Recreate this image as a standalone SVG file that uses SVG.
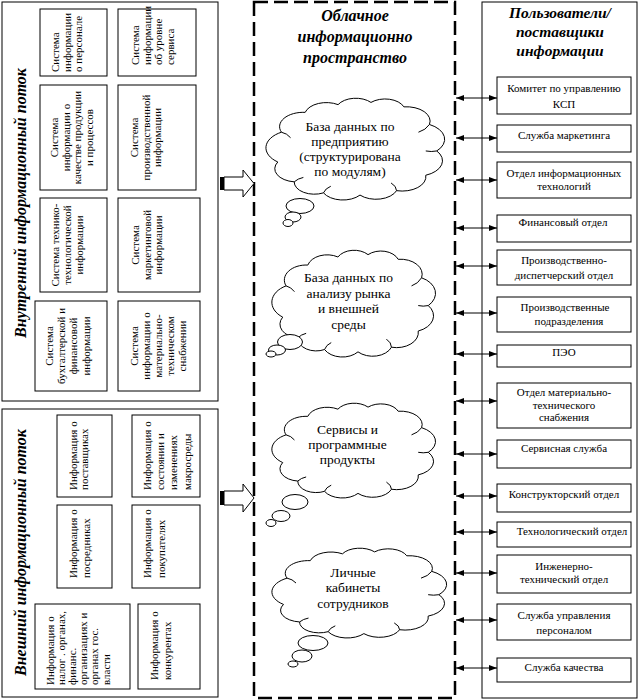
<svg xmlns="http://www.w3.org/2000/svg" xmlns:xlink="http://www.w3.org/1999/xlink" width="639" height="700" viewBox="0 0 639 700">
<style>
.bx{fill:#fff;stroke:#000;stroke-width:1}
.ct{font-family:"Liberation Serif","Times New Roman",serif;font-size:11px;fill:#000}
.cm{text-anchor:middle}
.tt{font-family:"Liberation Serif","Times New Roman",serif;font-size:16px;font-weight:bold;font-style:italic;fill:#000}
.cl{font-family:"Liberation Serif","Times New Roman",serif;font-size:13.5px;fill:#000;text-anchor:middle}
.rt{font-family:"Liberation Serif","Times New Roman",serif;font-size:11px;fill:#000;text-anchor:middle}
.cloud{fill:#fff;stroke:#000;stroke-width:1;vector-effect:non-scaling-stroke}
.cloudin{fill:none;stroke:#000;stroke-width:1;vector-effect:non-scaling-stroke}
.bub{fill:#fff;stroke:#000;stroke-width:1}
.conn{stroke:#000;stroke-width:1;fill:none;marker-start:url(#ah);marker-end:url(#ah)}
</style>
<defs>
<marker id="ah" viewBox="0 0 8 6" refX="8" refY="3" markerWidth="8" markerHeight="6" markerUnits="userSpaceOnUse" orient="auto-start-reverse"><path d="M0,0 L8,3 L0,6 Z" fill="#000"/></marker>
<g id="cloudshape">
<path class="cloud" d="M7,62 A16,16 0 0 1 9,35 A13,13 0 0 1 22,17 A12,12 0 0 1 40,10 A11,11 0 0 1 58,8 A11,11 0 0 1 76,12 A13,13 0 0 1 90,28 A15,15 0 0 1 94,52 A14,14 0 0 1 88,74 A13,13 0 0 1 72,88 A12,12 0 0 1 52,92 A12,12 0 0 1 32,90 A11,11 0 0 1 16,80 A12,12 0 0 1 7,62 Z"/>
<path class="cloudin" d="M9,35 Q12,36 14,40 M90,28 Q88,33 84,35 M94,52 Q91,53 88,52 M72,88 Q72,84 69,81 M32,90 Q33,86 36,84 M16,80 Q18,77 21,76"/>
</g>
</defs>
<rect x="0" y="0" width="639" height="700" fill="#fff"/>

<!-- Internal panel -->
<g id="internal-flow">
<rect class="bx" x="2" y="2" width="216" height="399"/>
<text class="tt cm" transform="translate(26,203) rotate(-90)">Внутренний информационный поток</text>
</g>
<g id="int-personnel"><rect class="bx" x="40" y="9" width="67" height="67"/>
<text class="ct" transform="translate(59,72) rotate(-90)"><tspan x="0" y="0">Система</tspan><tspan x="0" y="11.5">информации</tspan><tspan x="0" y="23">о персонале</tspan></text></g>
<g id="int-service"><rect class="bx" x="118" y="9" width="78" height="67"/>
<text class="ct" transform="translate(139,65) rotate(-90)"><tspan x="0" y="0">Система</tspan><tspan x="0" y="11.7">информации</tspan><tspan x="0" y="23.4">об уровне</tspan><tspan x="0" y="35.1">сервиса</tspan></text></g>
<g id="int-quality"><rect class="bx" x="40" y="85" width="67" height="105"/>
<text class="ct cm" transform="translate(58,137.5) rotate(-90)"><tspan x="0" y="0">Система</tspan><tspan x="0" y="11.7">информации о</tspan><tspan x="0" y="23.4">качестве продукции</tspan><tspan x="0" y="35.1">и процессов</tspan></text></g>
<g id="int-production"><rect class="bx" x="118" y="85" width="78" height="105"/>
<text class="ct cm" transform="translate(138,137.5) rotate(-90)"><tspan x="0" y="0">Система</tspan><tspan x="0" y="11.7">производственной</tspan><tspan x="0" y="23.4">информации</tspan></text></g>
<g id="int-tech"><rect class="bx" x="40" y="198" width="67" height="94"/>
<text class="ct cm" transform="translate(59,245) rotate(-90)"><tspan x="0" y="0">Система технико-</tspan><tspan x="0" y="12">технологической</tspan><tspan x="0" y="24">информации</tspan></text></g>
<g id="int-marketing"><rect class="bx" x="118" y="198" width="82" height="94"/>
<text class="ct cm" transform="translate(139,245) rotate(-90)"><tspan x="0" y="0">Система</tspan><tspan x="0" y="11.7">маркетинговой</tspan><tspan x="0" y="23.4">информации</tspan></text></g>
<g id="int-accounting"><rect class="bx" x="35" y="301" width="72" height="90"/>
<text class="ct cm" transform="translate(53,346) rotate(-90)"><tspan x="0" y="0">Система</tspan><tspan x="0" y="12.2">бухгалтерской  и</tspan><tspan x="0" y="24.4">финансовой</tspan><tspan x="0" y="36.6">информации</tspan></text></g>
<g id="int-supply"><rect class="bx" x="118" y="301" width="82" height="90"/>
<text class="ct cm" transform="translate(138,346) rotate(-90)"><tspan x="0" y="0">Система</tspan><tspan x="0" y="12">информации о</tspan><tspan x="0" y="24">материально-</tspan><tspan x="0" y="36">техническом</tspan><tspan x="0" y="48">снабжении</tspan></text></g>

<!-- External panel -->
<g id="external-flow">
<rect class="bx" x="2" y="409" width="216" height="288"/>
<text class="tt cm" transform="translate(26,552.5) rotate(-90)">Внешний информационный поток</text>
</g>
<g id="ext-suppliers"><rect class="bx" x="57" y="415" width="55" height="82"/>
<text class="ct" transform="translate(76.5,490) rotate(-90)"><tspan x="0" y="0">Информация о</tspan><tspan x="0" y="11.5">поставщиках</tspan></text></g>
<g id="ext-macro"><rect class="bx" x="132" y="415" width="68" height="82"/>
<text class="ct" transform="translate(151,490) rotate(-90)"><tspan x="0" y="0">Информация о</tspan><tspan x="0" y="13.2">состоянии и</tspan><tspan x="0" y="26.4">изменениях</tspan><tspan x="0" y="39.6">макросреды</tspan></text></g>
<g id="ext-intermediaries"><rect class="bx" x="57" y="505" width="55" height="83"/>
<text class="ct" transform="translate(77,578) rotate(-90)"><tspan x="0" y="0">Информация о</tspan><tspan x="0" y="13">посредниках</tspan></text></g>
<g id="ext-buyers"><rect class="bx" x="132" y="505" width="68" height="83"/>
<text class="ct" transform="translate(151,578) rotate(-90)"><tspan x="0" y="0">Информация о</tspan><tspan x="0" y="14">покупателях</tspan></text></g>
<g id="ext-authorities"><rect class="bx" x="35" y="604" width="95" height="85"/>
<text class="ct" transform="translate(53.5,685) rotate(-90)"><tspan x="0" y="0">Информация о</tspan><tspan x="0" y="11.2">налог . органах,</tspan><tspan x="0" y="22.4">финанс.</tspan><tspan x="0" y="33.6">организациях и</tspan><tspan x="0" y="44.8">органах гос.</tspan><tspan x="0" y="56">власти</tspan></text></g>
<g id="ext-competitors"><rect class="bx" x="138" y="604" width="62" height="85"/>
<text class="ct" transform="translate(158,680) rotate(-90)"><tspan x="0" y="0">Информация о</tspan><tspan x="0" y="13">конкурентах</tspan></text></g>

<!-- Cloud space -->
<g id="cloud-space">
<rect x="254" y="2" width="201" height="696" fill="none" stroke="#000" stroke-width="2.5" stroke-dasharray="14 6"/>
<text class="tt" text-anchor="middle"><tspan x="355" y="21">Облачное</tspan><tspan x="355" y="42">информационно</tspan><tspan x="355" y="63">пространство</tspan></text>
</g>
<g id="cloud-enterprise-db">
<use xlink:href="#cloudshape" href="#cloudshape" transform="translate(265,93.6) scale(1.827,1.103)"/>
<ellipse class="bub" cx="300" cy="206" rx="14" ry="7.5"/>
<ellipse class="bub" cx="293" cy="217" rx="8" ry="5"/>
<ellipse class="bub" cx="288" cy="223" rx="5" ry="3.5"/>
<text class="cl"><tspan x="350" y="131">База данных по</tspan><tspan x="350" y="146">предприятию</tspan><tspan x="350" y="161">(структурирована</tspan><tspan x="350" y="176">по модулям)</tspan></text>
</g>
<g id="cloud-market-db">
<use xlink:href="#cloudshape" href="#cloudshape" transform="translate(271,245.4) scale(1.673,1.157)"/>
<ellipse class="bub" cx="290" cy="342" rx="12.5" ry="7.5"/>
<ellipse class="bub" cx="277" cy="350" rx="8.5" ry="5"/>
<ellipse class="bub" cx="271" cy="354" rx="5" ry="3"/>
<text class="cl"><tspan x="348.5" y="282">База данных по</tspan><tspan x="348.5" y="297.5">анализу рынка</tspan><tspan x="348.5" y="313">и внешней</tspan><tspan x="348.5" y="328.5">среды</tspan></text>
</g>
<g id="cloud-services">
<use xlink:href="#cloudshape" href="#cloudshape" transform="translate(271,398.9) scale(1.673,1.027)"/>
<ellipse class="bub" cx="295" cy="502" rx="13" ry="7.5"/>
<ellipse class="bub" cx="281" cy="516" rx="9" ry="5.5"/>
<ellipse class="bub" cx="271" cy="523" rx="5" ry="3.5"/>
<text class="cl"><tspan x="347.5" y="434">Сервисы и</tspan><tspan x="347.5" y="449">программные</tspan><tspan x="347.5" y="464">продукты</tspan></text>
</g>
<g id="cloud-cabinets">
<use xlink:href="#cloudshape" href="#cloudshape" transform="translate(271,544.1) scale(1.786,0.973)"/>
<ellipse class="bub" cx="313" cy="643" rx="15" ry="7.5"/>
<ellipse class="bub" cx="302" cy="656" rx="10" ry="6"/>
<ellipse class="bub" cx="293" cy="664" rx="5" ry="3"/>
<text class="cl"><tspan x="353" y="577">Личные</tspan><tspan x="353" y="592">кабинеты</tspan><tspan x="353" y="608">сотрудников</tspan></text>
</g>

<!-- Block arrows -->
<g id="block-arrows">
<rect x="220" y="177" width="4" height="13" fill="#000"/>
<path d="M224,177 H243 V170 L254,183.5 L243,197 V190 H224 Z" fill="#fff" stroke="#000" stroke-width="1"/>
<rect x="220" y="491" width="4" height="14" fill="#000"/>
<path d="M224,491 H243 V484 L254,498 L243,512 V505 H224 Z" fill="#fff" stroke="#000" stroke-width="1"/>
</g>

<!-- Users panel -->
<g id="users-panel">
<rect class="bx" x="482" y="2" width="155" height="696"/>
<text class="tt" text-anchor="middle" style="font-size:15.5px"><tspan x="560" y="18">Пользователи/</tspan><tspan x="560" y="37">поставщики</tspan><tspan x="560" y="56">информации</tspan></text>
</g>

<g id="connectors">
<line class="conn" x1="456" y1="98" x2="497" y2="98"/>
<line class="conn" x1="456" y1="138" x2="497" y2="138"/>
<line class="conn" x1="456" y1="180" x2="497" y2="180"/>
<line class="conn" x1="456" y1="228" x2="497" y2="228"/>
<line class="conn" x1="456" y1="266" x2="497" y2="266"/>
<line class="conn" x1="456" y1="313" x2="497" y2="313"/>
<line class="conn" x1="456" y1="354" x2="497" y2="354"/>
<line class="conn" x1="456" y1="401" x2="497" y2="401"/>
<line class="conn" x1="456" y1="454" x2="497" y2="454"/>
<line class="conn" x1="456" y1="496" x2="497" y2="496"/>
<line class="conn" x1="456" y1="532" x2="497" y2="532"/>
<line class="conn" x1="456" y1="573" x2="497" y2="573"/>
<line class="conn" x1="456" y1="620" x2="497" y2="620"/>
<line class="conn" x1="456" y1="668" x2="497" y2="668"/>
</g>

<g id="u-committee"><rect class="bx" x="497" y="77" width="134" height="37"/><text class="rt"><tspan x="564" y="92">Комитет по управлению</tspan><tspan x="564" y="108">КСП</tspan></text></g>
<g id="u-marketing"><rect class="bx" x="497" y="125" width="134" height="27"/><text class="rt" x="564" y="139">Служба маркетинга</text></g>
<g id="u-it"><rect class="bx" x="497" y="162" width="134" height="36"/><text class="rt"><tspan x="564" y="177">Отдел информационных</tspan><tspan x="564" y="190">технологий</tspan></text></g>
<g id="u-finance"><rect class="bx" x="497" y="215" width="134" height="27"/><text class="rt" x="563" y="226">Финансовый отдел</text></g>
<g id="u-dispatch"><rect class="bx" x="497" y="250" width="134" height="35"/><text class="rt"><tspan x="564" y="264">Производственно-</tspan><tspan x="564" y="279">диспетчерский отдел</tspan></text></g>
<g id="u-divisions"><rect class="bx" x="497" y="297" width="134" height="35"/><text class="rt"><tspan x="565" y="311">Производственные</tspan><tspan x="569" y="325">подразделения</tspan></text></g>
<g id="u-peo"><rect class="bx" x="497" y="345" width="134" height="22"/><text class="rt" x="564" y="356">ПЭО</text></g>
<g id="u-supply"><rect class="bx" x="497" y="383" width="134" height="45"/><text class="rt"><tspan x="564" y="396">Отдел материально-</tspan><tspan x="564" y="408.5">технического</tspan><tspan x="564" y="421">снабжения</tspan></text></g>
<g id="u-service"><rect class="bx" x="497" y="440" width="134" height="28"/><text class="rt" x="564" y="452">Сервисная служба</text></g>
<g id="u-design"><rect class="bx" x="497" y="484" width="134" height="28"/><text class="rt" x="564" y="498">Конструкторский отдел</text></g>
<g id="u-technology"><rect class="bx" x="497" y="522" width="134" height="25"/><text class="rt" x="572" y="535">Технологический отдел</text></g>
<g id="u-engineering"><rect class="bx" x="497" y="555" width="134" height="38"/><text class="rt"><tspan x="564" y="570">Инженерно-</tspan><tspan x="564" y="583">технический отдел</tspan></text></g>
<g id="u-hr"><rect class="bx" x="497" y="604" width="134" height="36"/><text class="rt"><tspan x="564" y="619">Служба управления</tspan><tspan x="564" y="634">персоналом</tspan></text></g>
<g id="u-quality"><rect class="bx" x="497" y="658" width="134" height="24"/><text class="rt" x="564" y="671">Служба качества</text></g>
</svg>
